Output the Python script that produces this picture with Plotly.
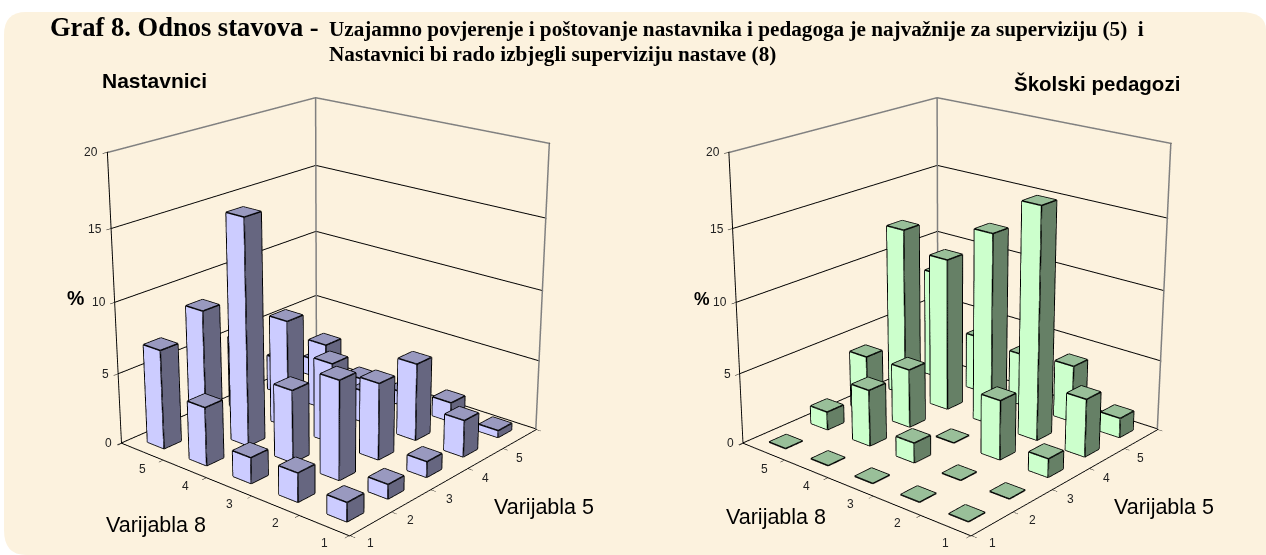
import plotly.graph_objects as go
import math

V5_LABELS = [1, 2, 3, 4, 5]
V8_LABELS = [1, 2, 3, 4, 5]
Z_TICKS = [0, 5, 10, 15, 20]
# rows: Varijabla 8 = 1..5, columns: Varijabla 5 = 1..5
NASTAVNICI_V8_1 = [1.3, 1.0, 1.1, 2.6, 0.5]
NASTAVNICI_V8_2 = [2.0, 6.9, 5.4, 5.5, 1.4]
NASTAVNICI_V8_3 = [1.8, 5.1, 5.7, 2.3, 1.0]
NASTAVNICI_V8_4 = [4.1, 15.9, 7.7, 4.8, 1.0]
NASTAVNICI_V8_5 = [7.0, 8.6, 5.2, 2.6, 1.3]
PEDAGOZI_V8_1 = [0, 0, 1.3, 4.1, 1.4]
PEDAGOZI_V8_2 = [0, 0, 4.2, 16.4, 4.1]
PEDAGOZI_V8_3 = [0, 1.4, 0, 13.7, 3.8]
PEDAGOZI_V8_4 = [0, 4.0, 4.2, 11.0, 4.1]
PEDAGOZI_V8_5 = [0, 1.3, 4.1, 12.3, 8.0]
NASTAVNICI = [NASTAVNICI_V8_1, NASTAVNICI_V8_2, NASTAVNICI_V8_3, NASTAVNICI_V8_4, NASTAVNICI_V8_5]
PEDAGOZI = [PEDAGOZI_V8_1, PEDAGOZI_V8_2, PEDAGOZI_V8_3, PEDAGOZI_V8_4, PEDAGOZI_V8_5]

W, H = 1266, 555
FIG_H = 1347          # taller drawing, so that the 45 degree camera sits far away (weak perspective)
SHIFT = 377           # window y = figure y - SHIFT
BAR = 0.4
fig = go.Figure()


def bars(rows, front, side, top, scene):
    X, Y, Z, I, J, K, C = [], [], [], [], [], [], []
    ex, ey, ez = [], [], []

    def quad(p, col):
        n = len(X)
        for q in p:
            X.append(q[0]); Y.append(q[1]); Z.append(q[2])
        I.extend([n, n]); J.extend([n + 1, n + 2]); K.extend([n + 2, n + 3]); C.extend([col, col])

    def edge(a, b):
        ex.extend([a[0], b[0], None]); ey.extend([a[1], b[1], None]); ez.extend([a[2], b[2], None])

    for r, row in zip(V8_LABELS, rows):
        for c, v in zip(V5_LABELS, row):
            x0, x1 = c - BAR / 2, c + BAR / 2
            y0, y1 = r - BAR / 2, r + BAR / 2
            a, b, cc, d = (x0, y0), (x1, y0), (x1, y1), (x0, y1)
            t = [(p[0], p[1], v) for p in (a, b, cc, d)]
            quad(t, top)
            for i in range(4):
                edge(t[i], t[(i + 1) % 4])
            if v > 0:
                quad([(x0, y0, 0), (x0, y1, 0), (x0, y1, v), (x0, y0, v)], front)
                quad([(x0, y0, 0), (x1, y0, 0), (x1, y0, v), (x0, y0, v)], side)
                edge((x0, y0, 0), (x0, y0, v))
                edge((x0, y1, 0), (x0, y1, v))
                edge((x1, y0, 0), (x1, y0, v))
                edge((x0, y0, 0), (x0, y1, 0))
                edge((x0, y0, 0), (x1, y0, 0))
    fig.add_trace(go.Mesh3d(x=X, y=Y, z=Z, i=I, j=J, k=K, facecolor=C, flatshading=True, scene=scene,
                            lighting=dict(ambient=1, diffuse=0, specular=0, fresnel=0, roughness=1),
                            hoverinfo="skip", showscale=False))
    fig.add_trace(go.Scatter3d(x=ex, y=ey, z=ez, mode="lines", line=dict(color="black", width=3),
                               scene=scene, hoverinfo="skip", showlegend=False))
    # wall outlines
    lx = [.5, 5.5, 5.5, None, 5.5, 5.5, None, 5.5, 5.5]
    ly = [5.5, 5.5, .5, None, 5.5, 5.5, None, .5, .5]
    lz = [20, 20, 20, None, 0, 20, None, 0, 20]
    fig.add_trace(go.Scatter3d(x=lx, y=ly, z=lz, mode="lines", line=dict(color="#808080", width=3),
                               scene=scene, hoverinfo="skip", showlegend=False))


bars(NASTAVNICI, "#CCCCFF", "#666680", "#9999BF", "scene")
bars(PEDAGOZI, "#CCFFCC", "#668066", "#99BF99", "scene2")

a, b, phi = 0.76, 0.649, math.radians(20)
n = math.hypot(a, b)
r = 5.35
eye = dict(x=-r * a / n * math.cos(phi), y=-r * b / n * math.cos(phi), z=r * math.sin(phi))
TICK_FONT = dict(family="Liberation Sans", size=12, color="#222")


def scene(dom):
    edges = [.5, 1.5, 2.5, 3.5, 4.5, 5.5]
    ax = dict(title="", showgrid=False, showbackground=False, zeroline=False, showspikes=False,
              showline=True, linecolor="black", linewidth=2, ticks="outside", ticklen=5, tickcolor="black",
              tickangle=0, tickfont=TICK_FONT, tickmode="array",
              tickvals=edges, ticktext=[" "] * 6, range=[.49, 5.51])
    zax = dict(ax, tickvals=Z_TICKS, ticktext=[" "] * 5, range=[-.02, 20.02],
               showgrid=True, gridcolor="black", gridwidth=2)
    ann = [dict(x=v, y=.5, z=0, text=str(v), showarrow=False, yshift=-20, font=TICK_FONT) for v in V5_LABELS]
    ann += [dict(x=.5, y=v, z=0, text=str(v), showarrow=False, yshift=-18, font=TICK_FONT) for v in V8_LABELS]
    ann += [dict(x=.5, y=5.5, z=v, text=str(v), showarrow=False, xanchor="right", xshift=-8, font=TICK_FONT)
            for v in Z_TICKS]
    return dict(domain=dict(x=dom, y=[0, 1]), xaxis=ax, yaxis=ax, zaxis=zax, bgcolor="rgba(0,0,0,0)",
                aspectmode="manual", aspectratio=dict(x=1, y=1, z=1.01), annotations=ann,
                camera=dict(eye=eye, center=dict(x=0, y=0, z=0), up=dict(x=0, y=0, z=1),
                            projection=dict(type="perspective")))


def py(y):
    return 1 - (y + SHIFT) / FIG_H


def txt(x, y, s, size, fam="Liberation Sans", bold=True, anchor="left"):
    return dict(x=x / W, y=py(y), xref="paper", yref="paper", text=f"<b>{s}</b>" if bold else s,
                showarrow=False, xanchor=anchor, yanchor="middle", font=dict(family=fam, size=size, color="black"))


SERIF = "Liberation Serif"
fig.update_layout(
    width=W, height=FIG_H, margin=dict(l=0, r=0, t=0, b=0), paper_bgcolor="white", showlegend=False,
    scene=scene([0, .523]), scene2=scene([.505, 1]),
    shapes=[dict(type="path", xref="paper", yref="paper", layer="below", line=dict(width=0), fillcolor="#FCF2DE",
                 path=f"M {26/W} {py(555)} Q {4/W} {py(555)} {4/W} {py(530)} L {4/W} {py(35)} Q {4/W} {py(12)} {26/W} {py(12)} "
                      f"L {1240/W} {py(12)} Q {1266/W} {py(12)} {1266/W} {py(30)} L 1 {py(555)} Z")],
    annotations=[
        txt(48, 27, "Graf 8. Odnos stavova -", 26.5, SERIF),
        txt(327, 29, "Uzajamno povjerenje i poštovanje nastavnika i pedagoga je najvažnije za superviziju (5)  i", 21.2, SERIF),
        txt(327, 54, "Nastavnici bi rado izbjegli superviziju nastave (8)", 21.2, SERIF),
        txt(100, 80, "Nastavnici", 21),
        txt(1012, 83, "Školski pedagozi", 20.5),
        txt(65, 298, "%", 19.5),
        txt(692, 299, "%", 17.5),
        txt(104, 525, "Varijabla 8", 21.5, bold=False),
        txt(492, 507, "Varijabla 5", 21.5, bold=False),
        txt(724, 517, "Varijabla 8", 21.5, bold=False),
        txt(1112, 507, "Varijabla 5", 21.5, bold=False),
    ])
POST = f"""
document.documentElement.style.overflow='hidden';
document.body.style.overflow='hidden';
document.body.style.margin='0';
document.getElementById('{{plot_id}}').style.marginTop='-{SHIFT}px';
"""
fig.write_html("out.html", post_script=POST)
